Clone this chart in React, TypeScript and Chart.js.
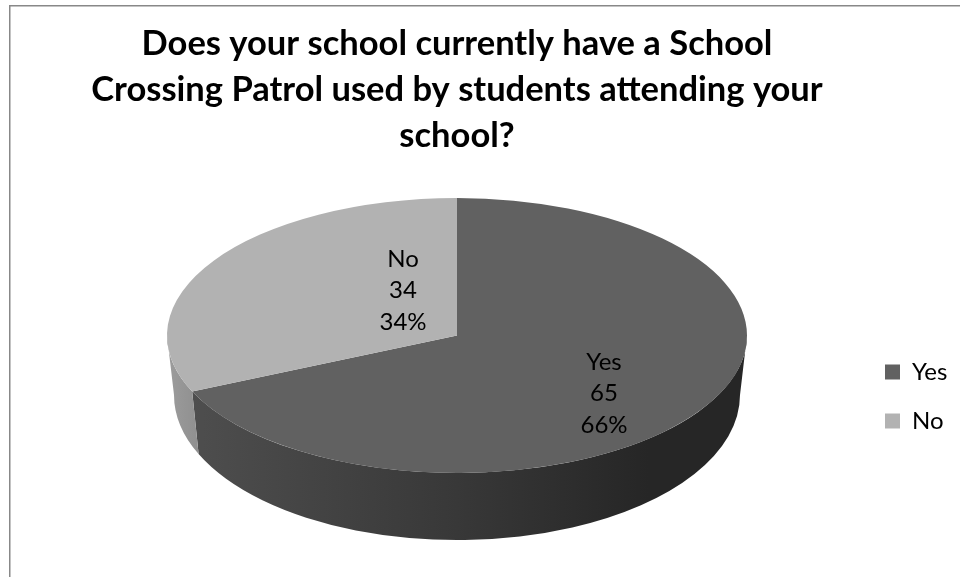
import React, { useEffect, useRef } from "react";
import { Chart, registerables } from "chart.js";

Chart.register(...registerables);

const categories = ["Yes", "No"];
const counts = [65, 34];
const percentLabels = ["66%", "34%"];
const titleLines = [
  "Does your school currently have a School",
  "Crossing Patrol used by students attending your",
  "school?",
];
const faceColors = ["#616161", "#b2b2b2"];
const FONT = "Lato, Carlito, sans-serif";

// 3D look of the pie
const RX = 290;
const BOTTOM_RX = 283;
const BOTTOM_RY = 145;
const BOTTOM_CY = 395;
const PERSPECTIVE = 1.49;
const labelOffsets = [
  { dx: 147, dy: 58 },
  { dx: -54, dy: -45 },
];

const TAU = Math.PI * 2;
const project = (t: number) => {
  if (t >= TAU - 1e-6) return TAU;
  const p = Math.atan2(PERSPECTIVE * Math.sin(t), Math.cos(t));
  return p < 0 ? p + TAU : p;
};

const pie3d = {
  id: "pie3d",
  beforeDraw(chart: any) {
    const { ctx } = chart;
    ctx.save();
    ctx.fillStyle = "#ffffff";
    ctx.fillRect(0, 0, chart.width, chart.height);
    ctx.strokeStyle = "#888888";
    ctx.lineWidth = 1.5;
    ctx.beginPath();
    ctx.moveTo(9.75, chart.height);
    ctx.lineTo(9.75, 5.75);
    ctx.lineTo(chart.width, 5.75);
    ctx.stroke();
    ctx.restore();
    const lg = chart.legend;
    lg.left = 860;
    lg.right = 960;
    lg.top = 335;
    lg.bottom = 470;
    lg.width = 100;
    lg.height = 135;
    const tb = chart.titleBlock;
    tb.left = 37;
    tb.right = 877;
    tb.width = 840;
  },
  afterDatasetsUpdate(chart: any) {
    const start = -Math.PI / 2;
    chart.getDatasetMeta(0).data.forEach((el: any) => {
      const a = start + project(el.startAngle - start);
      const b = start + project(el.endAngle - start);
      el.startAngle = a;
      el.endAngle = b;
      el.circumference = b - a;
    });
  },
  beforeDatasetsDraw(chart: any) {
    const { ctx } = chart;
    const els = chart.getDatasetMeta(0).data;
    const { x: cx, y: cy, outerRadius: R } = els[0];
    const grads = [
      [[0.04, "#4e4e4e"], [0.5, "#383838"], [0.83, "#262626"]],
      [[0, "#9c9c9c"], [0.06, "#8e8e8e"]],
    ];
    els.forEach((el: any, i: number) => {
      const a = Math.max(el.startAngle, 0);
      const b = Math.min(el.endAngle, Math.PI);
      if (b <= a) return;
      const g = ctx.createLinearGradient(cx - RX, 0, cx + RX, 0);
      grads[i].forEach(([o, c]: any) => g.addColorStop(o, c));
      ctx.fillStyle = g;
      ctx.beginPath();
      ctx.ellipse(cx, cy, RX, R, 0, a, b);
      ctx.ellipse(cx, BOTTOM_CY, BOTTOM_RX, BOTTOM_RY, 0, b, a, true);
      ctx.closePath();
      ctx.fill();
    });
    ctx.save();
    ctx.translate(cx, cy);
    ctx.scale(RX / R, 1);
    ctx.translate(-cx, -cy);
  },
  afterDatasetsDraw(chart: any) {
    const { ctx } = chart;
    ctx.restore();
    const { x: cx, y: cy } = chart.getDatasetMeta(0).data[0];
    ctx.save();
    ctx.fillStyle = "#000000";
    ctx.font = `24px ${FONT}`;
    ctx.textAlign = "center";
    ctx.textBaseline = "middle";
    categories.forEach((name, i) => {
      const { dx, dy } = labelOffsets[i];
      [name, String(counts[i]), percentLabels[i]].forEach((t, j) => {
        ctx.fillText(t, cx + dx, cy + dy + (j - 1) * 31.5);
      });
    });
    ctx.restore();
  },
};

export default function App() {
  const ref = useRef<HTMLCanvasElement>(null);
  useEffect(() => {
    const chart = new Chart(ref.current!, {
      type: "pie",
      data: {
        labels: categories,
        datasets: [
          {
            data: counts,
            backgroundColor: faceColors,
            borderWidth: 0,
            clip: false,
          } as any,
        ],
      },
      options: {
        responsive: false,
        animation: false,
        layout: { padding: { left: 167, right: 163, top: 0, bottom: 104 } },
        plugins: {
          title: {
            display: true,
            text: titleLines,
            fullSize: false,
            color: "#000000",
            font: { family: FONT, size: 34.5, weight: "bold", lineHeight: 46 / 34.5 },
            padding: { top: 21, bottom: 39 },
          },
          legend: {
            display: true,
            position: "right",
            align: "start",
            fullSize: false,
            maxWidth: 50,
            labels: {
              boxWidth: 15,
              boxHeight: 15,
              padding: 25,
              color: "#000000",
              font: { family: FONT, size: 24 },
            },
          },
          tooltip: { enabled: false },
        },
      },
      plugins: [pie3d],
    } as any);
    return () => chart.destroy();
  }, []);
  return (
    <div style={{ position: "fixed", left: 0, top: 0, width: 960, height: 577 }}>
      <canvas ref={ref} width={960} height={577} style={{ display: "block" }} />
    </div>
  );
}
